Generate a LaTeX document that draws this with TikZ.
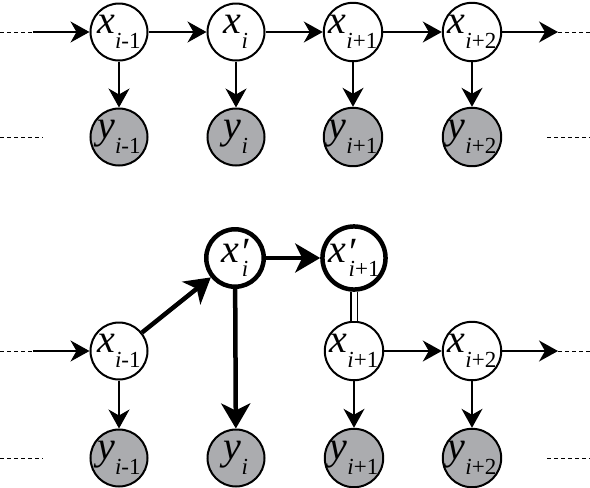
\documentclass[tikz,border=0pt]{standalone}
\usepackage{fontspec}
\setmainfont{Liberation Serif}
\usetikzlibrary{arrows.meta}
\definecolor{obsgray}{RGB}{171,172,175}
\newcommand\subsz{\fontsize{23}{23}\selectfont}
\newcommand\mainsz{\fontsize{40}{40}\selectfont}
\newcommand\itx[1]{{\itshape #1}}
\newcommand\lbl[2]{\mainsz\itx{#1}\raisebox{-0.36em}{\subsz #2}}
\newcommand\lblp[2]{\mainsz\itx{#1}\rlap{\kern0.08em\raisebox{-0.08em}{′}}\kern0.06em\raisebox{-0.36em}{\subsz #2}}
\tikzset{
  xn/.style={circle, draw, line width=2pt, fill=white, minimum size=57pt, inner sep=0pt},
  yn/.style={xn, fill=obsgray},
  xp/.style={circle, draw, line width=4.5pt, fill=white, minimum size=57.5pt, inner sep=0pt},
  arr/.style={line width=1.4pt, -{Stealth[length=19pt,width=21pt,inset=6pt]}},
  tarr/.style={line width=4.5pt, -{Stealth[length=25pt,width=29pt,inset=7pt]}},
  dline/.style={line width=1pt, dash pattern=on 4pt off 3pt},
  dbl/.style={line width=1.4pt, double, double distance=5pt}
}
\begin{document}
\begin{tikzpicture}[x=1pt,y=-1pt]
\useasboundingbox (0,0) rectangle (590,488);
% top chain
\node[xn] (ta) at (119,32) {\lbl{x}{\itx{i}-1}};
\node[xn] (tb) at (236,32) {\lbl{x}{\itx{i}}};
\node[xn] (tc) at (353,32) {\lbl{x}{\itx{i}+1}};
\node[xn] (td) at (472,32) {\lbl{x}{\itx{i}+2}};
\node[yn] (ya) at (119,137) {\lbl{y}{\itx{i}-1}};
\node[yn] (yb) at (236,137) {\lbl{y}{\itx{i}}};
\node[yn] (yc) at (353,137) {\lbl{y}{\itx{i}+1}};
\node[yn] (yd) at (472,137) {\lbl{y}{\itx{i}+2}};
\coordinate (l1) at (0,32); \coordinate (l1s) at (33,32);
\coordinate (r1s) at (558,32); \coordinate (r1) at (590,32);
\draw[dline] (l1) -- (l1s);
\draw[arr] (l1s) -- (ta);
\draw[arr] (ta) -- (tb);
\draw[arr] (tb) -- (tc);
\draw[arr] (tc) -- (td);
\draw[arr] (td) -- (r1s);
\draw[dline] (r1s) -- (r1);
\draw[arr] (ta) -- (ya);
\draw[arr] (tb) -- (yb);
\draw[arr] (tc) -- (yc);
\draw[arr] (td) -- (yd);
\coordinate (yl1) at (0,137); \coordinate (yl1e) at (43,137);
\coordinate (yr1) at (547,137); \coordinate (yr1e) at (590,137);
\draw[dline] (yl1) -- (yl1e);
\draw[dline] (yr1) -- (yr1e);
% bottom chain
\node[xp] (pb) at (235,258) {\lblp{x}{\itx{i}}};
\node[xp] (pc) at (354,258) {\lblp{x}{\itx{i}+1}};
\node[xn] (ba) at (119,351) {\lbl{x}{\itx{i}-1}};
\node[xn] (bc) at (354,351) {\lbl{x}{\itx{i}+1}};
\node[xn] (bd) at (472,351) {\lbl{x}{\itx{i}+2}};
\node[yn] (za) at (119,458) {\lbl{y}{\itx{i}-1}};
\node[yn] (zb) at (236,458) {\lbl{y}{\itx{i}}};
\node[yn] (zc) at (354,458) {\lbl{y}{\itx{i}+1}};
\node[yn] (zd) at (472,458) {\lbl{y}{\itx{i}+2}};
\coordinate (l2) at (0,351); \coordinate (l2s) at (33,351);
\coordinate (r2s) at (558,351); \coordinate (r2) at (590,351);
\draw[dline] (l2) -- (l2s);
\draw[arr] (l2s) -- (ba);
\draw[tarr] (ba) -- (pb);
\draw[tarr] (pb) -- (pc);
\draw[tarr] (pb) -- (zb);
\draw[dbl] (pc) -- (bc);
\draw[arr] (bc) -- (bd);
\draw[arr] (bd) -- (r2s);
\draw[dline] (r2s) -- (r2);
\draw[arr] (ba) -- (za);
\draw[arr] (bc) -- (zc);
\draw[arr] (bd) -- (zd);
\coordinate (zl1) at (0,458); \coordinate (zl1e) at (43,458);
\coordinate (zr1) at (547,458); \coordinate (zr1e) at (590,458);
\draw[dline] (zl1) -- (zl1e);
\draw[dline] (zr1) -- (zr1e);
\end{tikzpicture}
\end{document}
